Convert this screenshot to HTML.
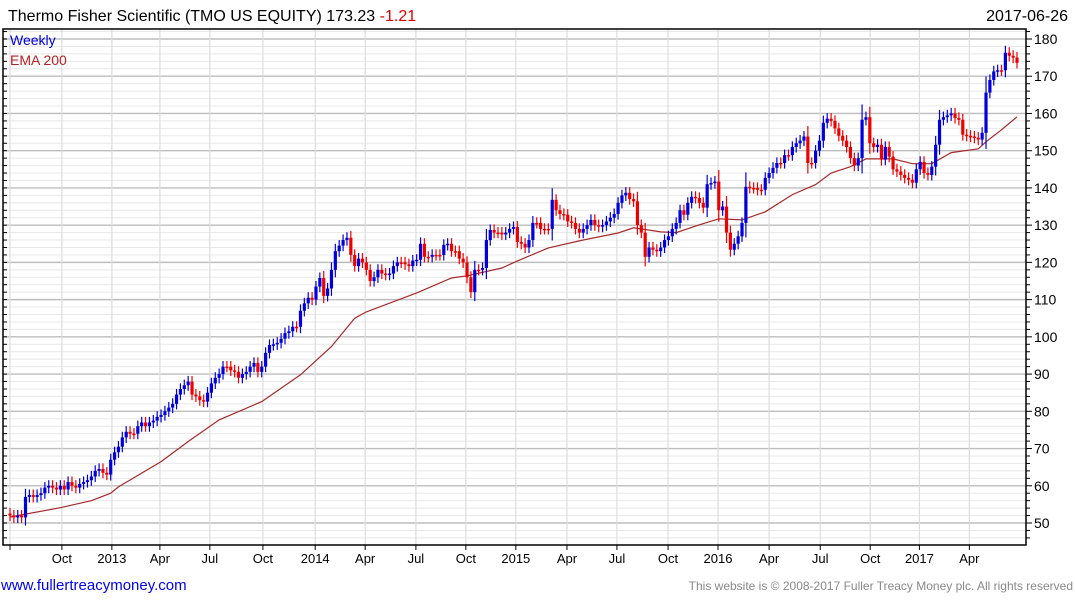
<!DOCTYPE html>
<html><head><meta charset="utf-8">
<style>
body{margin:0;background:#fff;width:1075px;height:600px;overflow:hidden;font-family:"Liberation Sans","DejaVu Sans",sans-serif;}
svg text{font-family:"Liberation Sans","DejaVu Sans",sans-serif;}
</style></head>
<body>
<svg id="chart" width="1075" height="600" xmlns="http://www.w3.org/2000/svg">
  <text x="8" y="21" font-size="16" fill="#000">Thermo Fisher Scientific (TMO US EQUITY) 173.23 <tspan fill="#e00000">-1.21</tspan></text>
  <text x="1068" y="21" font-size="16" fill="#000" text-anchor="end">2017-06-26</text>
  <g id="grid"></g>
  <g id="ema"></g>
  <g id="candles"></g>
  <g id="axes"></g>
  <text x="10" y="45" font-size="14" fill="#0000dd">Weekly</text>
  <text x="10" y="65" font-size="14" fill="#b22222">EMA 200</text>
  <text x="1" y="590" font-size="15" fill="#0000ee">www.fullertreacymoney.com</text>
  <text x="1073" y="590" font-size="12" fill="#888" text-anchor="end">This website is © 2008-2017 Fuller Treacy Money plc. All rights reserved</text>
</svg>
<script>
const closes = [52,51.5,52,51.5,57,57.5,57,57.5,58,59.5,60,59.5,59,
60,59,61,60,59.5,60.5,61,61.5,62.5,64,64.5,63.5,63,
67,69,70.5,73,74.5,74,74,76,77,76,77,77.5,78.5,
79,80,81,82,84.5,86,87,88,84.5,84,83,82.6,85,
87.5,89,90,92,92,91,90.6,89,90,90.6,92,93,90.6,
92,95.7,97.8,98,98.4,99.5,101,101.5,102.7,102.7,107,109,110.5,
110,113.5,115.8,111,113,118,123,124.5,126,126.6,122,119,121,
120,118,115,116,118,117,116.7,117,119,120,120,119.5,119,
120.5,120.7,125,121.5,121.5,122,122,122,124.7,125,123,123,121,
120,116,112,118,118,118.5,126,128.7,128,128,127.5,128,129,
129.5,125.5,125,124,126,130.6,130.6,129,129,129,136.8,134,133,
132.8,131,130.6,129,128,129,130,131.4,130,129.6,130,131,132,
133,136,138,138.7,137,136.4,130,128,121.5,124,123.4,123,124,
126,127,129,130.6,134,132.8,136,137.6,137.3,136,134.7,141,141.3,
141.7,134,135,128,123.4,125,127,130.6,140.3,140,140,139.5,139.5,
142.7,144,145.4,146.7,146.7,148.8,148.8,151,152,152.7,153.8,146.7,146.7,
150,152.7,157.5,158.6,158,156,154,152.7,151,148,146,148,158.3,
159,152,151,151.6,147.6,151,148.4,145,144.4,143.5,142.7,142.2,141.4,
145,147,144,143.5,145.7,151.6,158.3,159,159.5,160,158.8,158.3,154.3,
154,153.8,153.5,153,154.8,165.6,169,171.3,171.6,171.6,176.3,175.5,175,173.6];
const firstOpen = 52.5;
const emaWeeks = [0,13,21,26,28,39,46,54,65,75,83,89,92,105,114,118,127,131,139,148,157,161,168,172,178,183,189,195,202,208,212,217,221,228,233,238,243,250,252,256,260];
const emaValues = [51.6,54.1,56,58,59.7,66.5,71.9,77.7,82.6,89.8,97.4,105,106.7,111.8,115.8,116.4,118.5,120.4,123.9,126,127.9,129.3,128.2,128,130.1,131.7,131.4,133.6,138.2,140.9,144,145.7,147.8,147.8,146.5,146.5,149.5,150.5,152.4,155.6,159.1];
const yTicks = [50,60,70,80,90,100,110,120,130,140,150,160,170,180];
const xTickWeeks = [0,13.4,26.3,38.7,51.6,65.3,78.8,91.7,104.8,117.7,130.6,143.8,156.7,169.9,182.8,196,209.2,222.1,234.8,247.7];
const xTickLabels = ["","Oct","2013","Apr","Jul","Oct","2014","Apr","Jul","Oct","2015","Apr","Jul","Oct","2016","Apr","Jul","Oct","2017","Apr"];

const L=3,R=1026,T=29,B=545;
const xOf = w => 10 + w*(1007/260);
const yOf = v => 523 - (v-50)*(484/130);
const NS="http://www.w3.org/2000/svg";
function mk(tag, attrs, parent){const e=document.createElementNS(NS,tag);for(const k in attrs)e.setAttribute(k,attrs[k]);parent.appendChild(e);return e;}
const grid=document.getElementById('grid'), axes=document.getElementById('axes');
for(let v=46; v<=184; v+=2){
  const y=yOf(v); if(y<T||y>B) continue;
  const major = v%10===0;
  const ln=mk('line',{x1:L,x2:R,y1:y,y2:y,stroke:major?'#bdbdbd':'#e8e8e8','stroke-width':major?1.4:1},grid);
  
  
  const t1=mk('line',{x1:R,x2:R+(major?6:4),y1:y,y2:y,stroke:'#000'},axes);
  
  
  const t2=mk('line',{x1:L,x2:L+4,y1:y,y2:y,stroke:'#000'},axes);
  
  
}
yTicks.forEach(v=>{
  const t=mk('text',{x:1034,y:yOf(v)+5,'font-size':14,fill:'#000'},axes);
  t.textContent=v;
  
  
});
xTickWeeks.forEach((w,i)=>{
  const x=xOf(w);
  const g=mk('line',{x1:x,x2:x,y1:T,y2:B,stroke:'#dcdcdc','stroke-width':1.2},grid);
  
  
  const tk=mk('line',{x1:x,x2:x,y1:B,y2:B+5,stroke:'#000'},axes);
  
  
  if(xTickLabels[i]){
    const t=mk('text',{x:x,y:563,'font-size':13,fill:'#000','text-anchor':'middle'},axes);
    t.textContent=xTickLabels[i];
    
    
  }
});
const frame=mk('path',{d:`M${L},${T}H${R}V${B}H${L}Z`,fill:'none',stroke:'#000','stroke-width':1.5},axes);


const pts=emaWeeks.map((w,i)=>xOf(w).toFixed(1)+','+yOf(emaValues[i]).toFixed(1)).join(' ');
const ema=mk('polyline',{points:pts,fill:'none',stroke:'#a52a2a','stroke-width':1.2},document.getElementById('ema'));


const cg=document.getElementById('candles');
closes.forEach((c,i)=>{
  const o = i===0?firstOpen:closes[i-1];
  const up = c>o;
  const col = up?'#0000dd':'#ee0000';
  const hi=Math.max(o,c), lo=Math.min(o,c);
  const wick = Math.max(1.5, Math.abs(c-o)*0.4);
  const x=xOf(i);
  const w=mk('line',{x1:x,x2:x,y1:yOf(hi+wick),y2:yOf(lo-wick),stroke:col,'stroke-width':1.2},cg);
  
  
  const yT=yOf(hi), h=Math.max(1.5, yOf(lo)-yT);
  const b=mk('rect',{x:x-1.6,y:yT,width:3.2,height:h,fill:col},cg);
  
  
});
</script>
</body></html>
